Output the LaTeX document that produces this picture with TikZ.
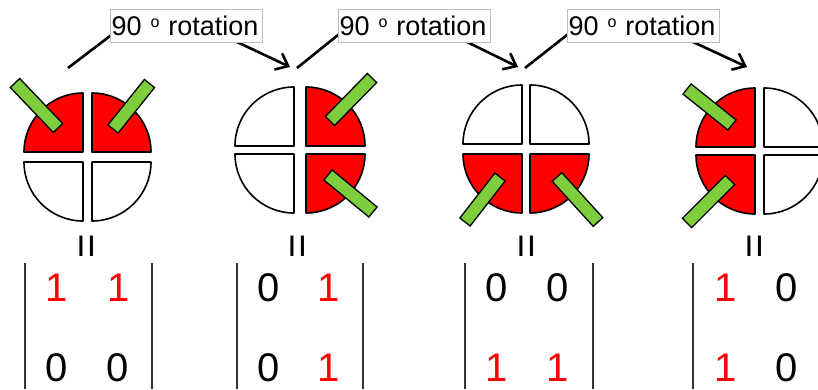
\documentclass[tikz,border=0pt]{standalone}
\usepackage{fontspec}
\setmainfont{Liberation Sans}
\usetikzlibrary{arrows.meta,calc}
\definecolor{qred}{RGB}{255,0,0}
\definecolor{bargreen}{RGB}{125,205,60}
\definecolor{boxgray}{RGB}{190,190,190}
\tikzset{
  quadw/.style={draw=black, line width=1.6pt, fill=white, line join=round},
  quadr/.style={quadw, fill=qred},
  gbar/.style={draw=black, line width=1.3pt, fill=bargreen, line join=miter},
  rotarrow/.style={draw=black, line width=2.6pt, -{Straight Barb[length=11pt,width=18pt]}},
  rotlabel/.style={draw=boxgray, line width=1pt, fill=white, text width=150pt, align=left,
    inner xsep=1pt, inner ysep=0pt, minimum height=33pt, anchor=north west,
    font=\fontsize{27}{27}\selectfont},
  digit/.style={font=\fontsize{40}{40}\selectfont, inner sep=0pt},
  redd/.style={digit, text=qred},
  eqsign/.style={font=\fontsize{42}{42}\selectfont, rotate=90, inner sep=0pt},
  matbar/.style={draw=black!80, line width=1.2pt},
}
\newcommand\fourq[8]{%
  \begin{scope}[shift={(#1,#2)}]
    \path[#6] (#3,#4) -- ++(59pt,0) arc[start angle=0,end angle=90,radius=59pt] -- cycle;
    \path[#5] (-#3,#4) -- ++(0,59pt) arc[start angle=90,end angle=180,radius=59pt] -- cycle;
    \path[#7] (-#3,-#4) -- ++(-59pt,0) arc[start angle=180,end angle=270,radius=59pt] -- cycle;
    \path[#8] (#3,-#4) -- ++(0,-59pt) arc[start angle=270,end angle=360,radius=59pt] -- cycle;
  \end{scope}}
\newcommand\greenbar[2]{%
  \path[gbar] ($(#1)!6.5pt!90:(#2)$) -- ($(#1)!6.5pt!-90:(#2)$) --
    ($(#2)!6.5pt!90:(#1)$) -- ($(#2)!6.5pt!-90:(#1)$) -- cycle;}
\newcommand\rotlab{90 {\fontsize{16}{16}\selectfont\raisebox{8pt}{o} }rotation}
\begin{document}
\begin{tikzpicture}[x=1pt,y=1pt]
\useasboundingbox (0,0) rectangle (818,389);
\clip (0,0) rectangle (818,389);

% circles
\fourq{87.5}{232}{4.5}{5}{quadr}{quadr}{quadw}{quadw}
\fourq{300}{239}{6}{4}{quadw}{quadr}{quadw}{quadr}
\fourq{526}{240}{4}{5}{quadw}{quadw}{quadr}{quadr}
\fourq{759.5}{238}{4.5}{4}{quadr}{quadw}{quadr}{quadw}

% green bars
\greenbar{15,306}{58,261}
\greenbar{149.5,305.5}{113,260}
\greenbar{372,311}{330,268}
\greenbar{373,177}{328,214}
\greenbar{465,167}{500,212}
\greenbar{598,167}{557,212}
\greenbar{687,300}{732,264}
\greenbar{687,166}{730,209}

% rotation arrows
\coordinate (s1) at (68,321);  \coordinate (m1a) at (120,360.6); \coordinate (m1b) at (225,352.7); \coordinate (e1) at (290,322);
\coordinate (s2) at (297,321); \coordinate (m2a) at (348,362);   \coordinate (m2b) at (455,352.9); \coordinate (e2) at (518,322);
\coordinate (s3) at (525,321); \coordinate (m3a) at (577,361.9); \coordinate (m3b) at (681,352.6); \coordinate (e3) at (747,322);
\draw[rotarrow] (s1) -- (m1a) -- (m1b) -- (e1);
\draw[rotarrow] (s2) -- (m2a) -- (m2b) -- (e2);
\draw[rotarrow] (s3) -- (m3a) -- (m3b) -- (e3);
\node[rotlabel] (lab1) at (110,380) {\rotlab};
\node[rotlabel] (lab2) at (338,380) {\rotlab};
\node[rotlabel] (lab3) at (567,380) {\rotlab};

% equal signs
\node[eqsign] (eq1) at (90,143) {=};
\node[eqsign] (eq2) at (301,143) {=};
\node[eqsign] (eq3) at (530,143) {=};
\node[eqsign] (eq4) at (758,143) {=};

% matrix bars
\draw[matbar] (25,126) -- (25,0);   \draw[matbar] (152,126) -- (152,0);
\draw[matbar] (237,126) -- (237,0); \draw[matbar] (363,126) -- (363,0);
\draw[matbar] (465,126) -- (465,0); \draw[matbar] (593,126) -- (593,0);
\draw[matbar] (693,126) -- (693,0);

% matrix entries
\node[redd]  (a11) at (57,101) {1};  \node[redd]  (a12) at (119,101) {1};
\node[digit] (a21) at (56.5,21) {0}; \node[digit] (a22) at (118,21) {0};
\node[digit] (b11) at (269,101) {0}; \node[redd]  (b12) at (329,101) {1};
\node[digit] (b21) at (269,21) {0};  \node[redd]  (b22) at (329,21) {1};
\node[digit] (c11) at (497,101) {0}; \node[digit] (c12) at (558,101) {0};
\node[redd]  (c21) at (497,21) {1};  \node[redd]  (c22) at (558,21) {1};
\node[redd]  (d11) at (726,101) {1}; \node[digit] (d12) at (787,101) {0};
\node[redd]  (d21) at (726,21) {1};  \node[digit] (d22) at (787,21) {0};
\end{tikzpicture}
\end{document}
